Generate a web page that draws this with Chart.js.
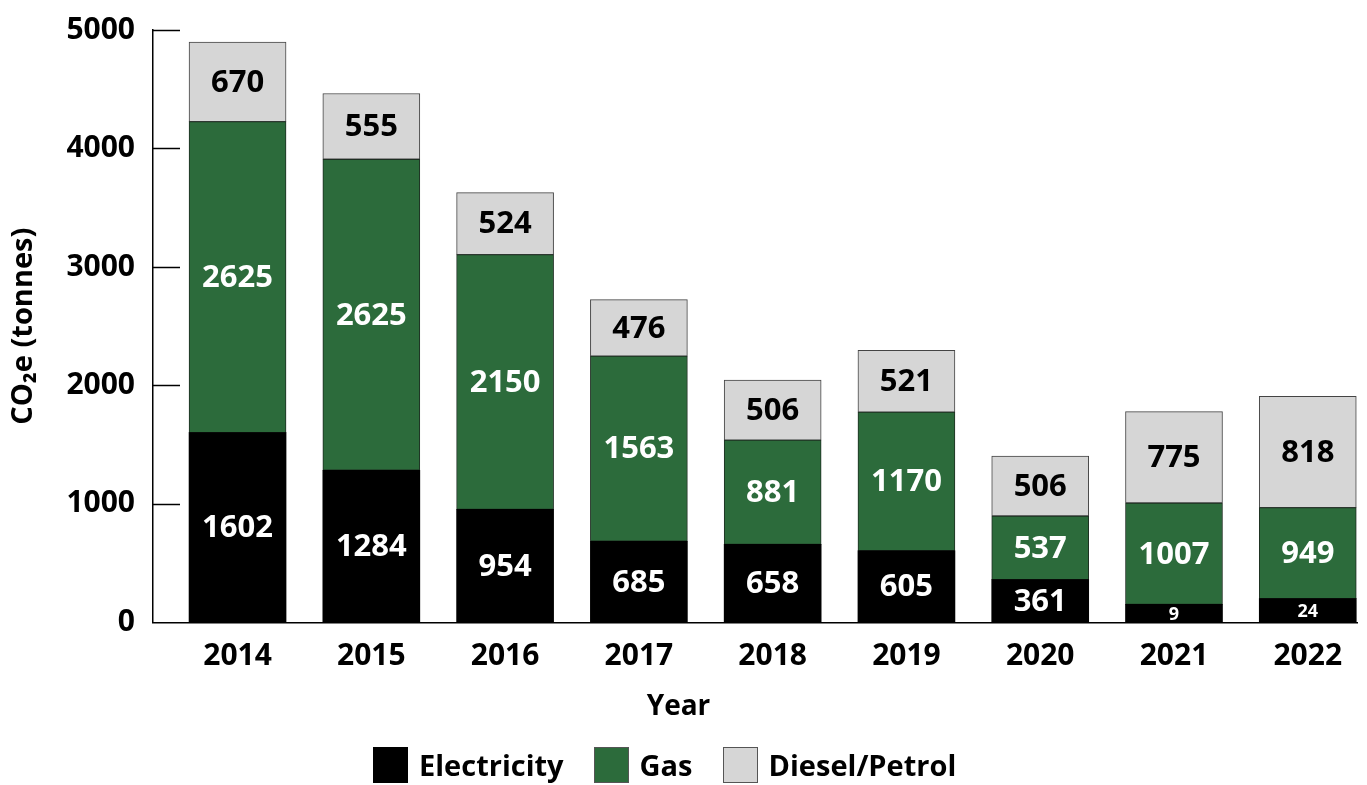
<!DOCTYPE html>
<html>
<head>
<meta charset="utf-8">
<title>CO2e by source</title>
<script src="https://cdn.jsdelivr.net/npm/chart.js@4"></script>
<style>
    html, body { margin: 0; padding: 0; background: #fff; }
    #wrap { width: 1367px; height: 785px; position: relative; }
    #legend {
        position: absolute;
        left: 373px;
        top: 747px;
        display: flex;
        align-items: center;
        font: bold 29px 'Open Sans', 'DejaVu Sans', sans-serif;
        color: #000;
    }
    #legend .item { display: flex; align-items: center; margin-right: 30px; }
    #legend .box { width: 35px; height: 36px; margin-right: 11px; box-sizing: border-box; }
    #legend .txt { line-height: 36px; }
</style>
</head>
<body>
<div id="wrap">
    <canvas id="co2-chart"></canvas>
    <div id="legend"></div>
</div>
<script>
// Values as drawn in the picture (bar heights), plus the numbers printed on each segment
const years = ['2014', '2015', '2016', '2017', '2018', '2019', '2020', '2021', '2022'];
const electricity = [1602, 1284, 954, 685, 658, 605, 361, 152, 200];
const gas = [2625, 2625, 2150, 1563, 881, 1170, 537, 856, 769];
const diesel = [670, 555, 524, 476, 506, 521, 506, 771, 940];

const electricityLabels = ['1602', '1284', '954', '685', '658', '605', '361', '9', '24'];
const gasLabels = ['2625', '2625', '2150', '1563', '881', '1170', '537', '1007', '949'];
const dieselLabels = ['670', '555', '524', '476', '506', '521', '506', '775', '818'];

const yTicks = [0, 1000, 2000, 3000, 4000, 5000];

const FONT = "'Open Sans', 'DejaVu Sans', sans-serif";
const GREEN = '#2c6b3b';
const GREY = '#d6d6d6';

function toPoints(values) {
    return values.map((v, i) => ({ x: i, y: v }));
}

// numbers written in the middle of each segment
const segmentLabels = {
    id: 'segmentLabels',
    afterDatasetsDraw(chart) {
        const ctx = chart.ctx;
        ctx.save();
        ctx.textAlign = 'center';
        ctx.textBaseline = 'middle';
        chart.data.datasets.forEach((ds, di) => {
            const meta = chart.getDatasetMeta(di);
            meta.data.forEach((bar, i) => {
                const h = Math.abs(bar.base - bar.y);
                const size = h < 40 ? 18 : 31;
                ctx.font = `bold ${size}px ${FONT}`;
                ctx.fillStyle = ds.labelColor;
                ctx.fillText(ds.segmentText[i], bar.x, (bar.y + bar.base) / 2 + 1);
            });
        });
        ctx.restore();
    }
};

// short y ticks pointing into the plot
const innerTicks = {
    id: 'innerTicks',
    afterDraw(chart) {
        const ctx = chart.ctx;
        const y = chart.scales.y;
        const left = chart.chartArea.left;
        ctx.save();
        ctx.strokeStyle = '#000';
        ctx.lineWidth = 1.5;
        yTicks.slice(1).forEach(v => {
            const py = Math.round(y.getPixelForValue(v)) + 0.5;
            ctx.beginPath();
            ctx.moveTo(left, py);
            ctx.lineTo(left + 27, py);
            ctx.stroke();
        });
        ctx.restore();
    }
};

const ctx = document.getElementById('co2-chart').getContext('2d');

const chart = new Chart(ctx, {
    type: 'bar',
    data: {
        datasets: [
            {
                label: 'Electricity',
                data: toPoints(electricity),
                segmentText: electricityLabels,
                labelColor: '#fff',
                backgroundColor: '#000',
                borderColor: '#000',
                borderWidth: 0
            },
            {
                label: 'Gas',
                data: toPoints(gas),
                segmentText: gasLabels,
                labelColor: '#fff',
                backgroundColor: GREEN,
                borderColor: '#1e2e22',
                borderWidth: 1,
                borderSkipped: false
            },
            {
                label: 'Diesel/Petrol',
                data: toPoints(diesel),
                segmentText: dieselLabels,
                labelColor: '#000',
                backgroundColor: GREY,
                borderColor: '#444',
                borderWidth: 1,
                borderSkipped: false
            }
        ]
    },
    options: {
        responsive: true,
        maintainAspectRatio: false,
        animation: false,
        barThickness: 97,
        layout: {
            padding: { left: 0, right: 10, top: 28, bottom: 61 }
        },
        scales: {
            x: {
                type: 'linear',
                stacked: true,
                offset: false,
                min: -0.632,
                max: 8.368,
                afterBuildTicks: (axis) => {
                    axis.ticks = years.map((_, i) => ({ value: i }));
                },
                afterFit: (s) => { s.height = 66; },
                grid: { display: false, drawTicks: false, offset: false },
                border: { display: true, color: '#000', width: 1.5 },
                ticks: {
                    padding: 16,
                    color: '#000',
                    font: { family: FONT, size: 30, weight: 'bold' },
                    callback: (v) => years[v] ?? ''
                }
            },
            y: {
                stacked: true,
                min: 0,
                max: 5000,
                afterBuildTicks: (axis) => {
                    axis.ticks = yTicks.map(v => ({ value: v }));
                },
                afterFit: (s) => { s.width = 153; },
                grid: { display: false, drawTicks: false },
                border: { display: true, color: '#000', width: 1.5 },
                ticks: {
                    padding: 18,
                    color: '#000',
                    font: { family: FONT, size: 30, weight: 'bold', lineHeight: 0.8 },
                    callback: (v) => String(v)
                },
                title: {
                    display: true,
                    text: 'CO₂e (tonnes)',
                    color: '#000',
                    padding: { top: 6, bottom: 0 },
                    font: { family: FONT, size: 29, weight: 'bold' }
                }
            }
        },
        plugins: {
            tooltip: { enabled: false },
            legend: { display: false },
            title: {
                display: true,
                position: 'bottom',
                text: 'Year',
                color: '#000',
                padding: { top: 2, bottom: 0 },
                font: { family: FONT, size: 28, weight: 'bold' }
            }
        }
    },
    plugins: [segmentLabels, innerTicks]
});

// legend built from the datasets
const legendEl = document.getElementById('legend');
chart.data.datasets.forEach((ds, i) => {
    const item = document.createElement('div');
    item.className = 'item';
    const box = document.createElement('span');
    box.className = 'box';
    box.style.background = ds.backgroundColor;
    box.style.border = i === 0 ? 'none' : '1px solid #555';
    const txt = document.createElement('span');
    txt.className = 'txt';
    txt.textContent = ds.label;
    item.appendChild(box);
    item.appendChild(txt);
    legendEl.appendChild(item);
});
</script>
</body>
</html>
